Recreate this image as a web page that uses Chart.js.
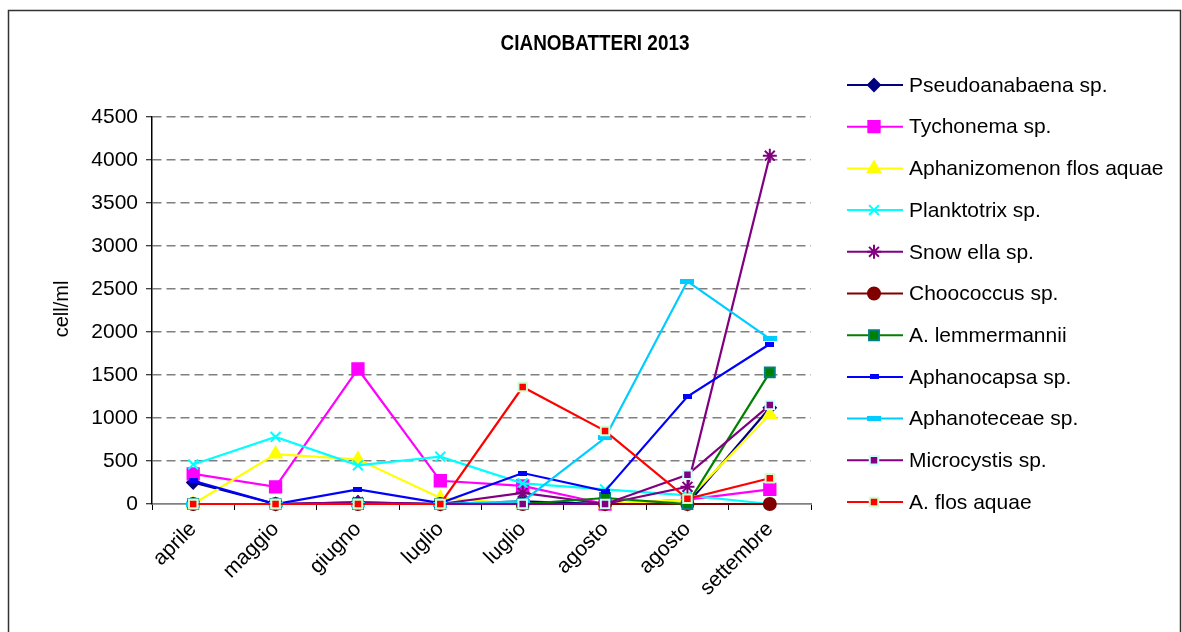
<!DOCTYPE html>
<html>
<head>
<meta charset="utf-8">
<script src="https://cdn.jsdelivr.net/npm/chart.js@4.4.0/dist/chart.umd.min.js"></script>
<style>
  body { margin: 0; background: #fff; }
  canvas { display: block; }
</style>
</head>
<body>
<canvas id="chart" width="1182" height="632"></canvas>
<script>
// values (cell/ml)
const months = ['aprile', 'maggio', 'giugno', 'luglio', 'luglio', 'agosto', 'agosto', 'settembre'];
const pseudoanabaena = [250, 0, 20, 0, 30, 0, 0, 1120];
const tychonema = [350, 200, 1570, 270, 210, 0, 50, 170];
const aphanizomenon = [0, 580, 520, 70, 0, 0, 50, 1040];
const planktotrix = [460, 780, 450, 550, 240, 170, 100, 0];
const snowella = [0, 0, 20, 0, 130, 0, 200, 4050];
const choococcus = [0, 0, 0, 0, 0, 0, 0, 0];
const lemmermannii = [0, 0, 0, 0, 0, 70, 0, 1530];
const aphanocapsa = [270, 0, 170, 10, 360, 150, 1250, 1860];
const aphanoteceae = [0, 0, 0, 0, 30, 770, 2590, 1920];
const microcystis = [0, 0, 0, 0, 0, 0, 340, 1150];
const flosAquae = [0, 0, 0, 0, 1360, 850, 60, 300];
const yTicks = [0, 500, 1000, 1500, 2000, 2500, 3000, 3500, 4000, 4500];

// small dash shaped markers
function dash(w, h, color) {
  const c = document.createElement('canvas');
  c.width = w; c.height = h;
  const g = c.getContext('2d');
  g.fillStyle = color;
  g.fillRect(0, 0, w, h);
  return c;
}

function series(label, data, color, style, radius, fill, border) {
  return {
    label: label,
    data: data,
    borderColor: color,
    backgroundColor: fill || color,
    borderWidth: 2.2,
    pointStyle: style,
    pointRadius: radius,
    pointHoverRadius: radius,
    pointBackgroundColor: fill || color,
    pointBorderColor: border || color,
    pointBorderWidth: 2,
    tension: 0,
    clip: false
  };
}

const datasets = [
  series('Pseudoanabaena sp.', pseudoanabaena, '#000080', 'rectRot', 6),
  series('Tychonema sp.', tychonema, '#ff00ff', 'rect', 8),
  series('Aphanizomenon flos aquae', aphanizomenon, '#ffff00', 'triangle', 7),
  series('Planktotrix sp.', planktotrix, '#00ffff', 'crossRot', 7),
  series('Snow ella sp.', snowella, '#800080', 'star', 7),
  series('Choococcus sp.', choococcus, '#800000', 'circle', 6),
  series('A. lemmermannii', lemmermannii, '#008000', 'rect', 7, '#008000', '#008080'),
  series('Aphanocapsa sp.', aphanocapsa, '#0000ff', dash(9, 5, '#0000ff'), 4),
  series('Aphanoteceae sp.', aphanoteceae, '#00ccff', dash(14, 5, '#00ccff'), 4),
  series('Microcystis sp.', microcystis, '#800080', 'rect', 6, '#800080', '#ccffff'),
  series('A. flos aquae', flosAquae, '#ff0000', 'rect', 6, '#ff0000', '#ccffcc')
];
// last series drawn on top, like the original
datasets.forEach((d, i) => { d.order = datasets.length - i; });

const frameAndText = {
  id: 'frameAndText',
  beforeDraw(chart) {
    const ctx = chart.ctx;
    ctx.save();
    ctx.fillStyle = '#fff';
    ctx.fillRect(0, 0, chart.width, chart.height);
    ctx.strokeStyle = '#333';
    ctx.lineWidth = 1.5;
    ctx.strokeRect(8.5, 10.5, 1172, 640);
    ctx.restore();
  },
  afterDraw(chart) {
    const ctx = chart.ctx;
    ctx.save();
    ctx.fillStyle = '#000';
    ctx.textAlign = 'center';
    ctx.textBaseline = 'middle';
    // narrow bold title
    ctx.save();
    ctx.translate(595, 44);
    ctx.scale(0.86, 1);
    ctx.font = "bold 22px 'Liberation Sans', Arial, sans-serif";
    ctx.fillText('CIANOBATTERI 2013', 0, 0);
    ctx.restore();

    // y axis title
    ctx.font = "20px 'Liberation Sans', Arial, sans-serif";
    ctx.translate(62, 309);
    ctx.rotate(-Math.PI / 2);
    ctx.fillText('cell/ml', 0, 0);
    ctx.restore();

    // legend: line through marker, like the original
    chart.data.datasets.forEach((d, i) => {
      const y = 85 + i * 41.7;
      ctx.save();
      ctx.strokeStyle = d.borderColor;
      ctx.lineWidth = 2;
      ctx.beginPath();
      ctx.moveTo(847, y);
      ctx.lineTo(903, y);
      ctx.stroke();
      ctx.fillStyle = d.pointBackgroundColor;
      ctx.strokeStyle = d.pointBorderColor;
      ctx.lineWidth = 2;
      Chart.helpers.drawPoint(ctx, {
        pointStyle: d.pointStyle,
        radius: d.pointRadius,
        rotation: 0,
        borderWidth: 2
      }, 874, y);
      ctx.fillStyle = '#000';
      ctx.font = "21px 'Liberation Sans', Arial, sans-serif";
      ctx.textAlign = 'left';
      ctx.textBaseline = 'middle';
      ctx.fillText(d.label, 909, y + 1);
      ctx.restore();
    });
  }
};

new Chart(document.getElementById('chart'), {
  type: 'line',
  data: { labels: months, datasets: datasets },
  options: {
    responsive: false,
    animation: false,
    devicePixelRatio: 1,
    layout: { padding: { top: 117, right: 371, left: 0, bottom: 0 } },
    plugins: {
      legend: { display: false },
      title: { display: false },
      tooltip: { enabled: false }
    },
    scales: {
      x: {
        offset: true,
        grid: {
          offset: true,
          drawOnChartArea: false,
          drawTicks: true,
          tickLength: 6,
          tickColor: '#000',
          tickWidth: 1
        },
        border: { color: '#808080', width: 1.5 },
        ticks: {
          color: '#000',
          font: { family: "'Liberation Sans', Arial, sans-serif", size: 21 },
          maxRotation: 45,
          minRotation: 45,
          padding: 7,
          autoSkip: false
        },
        afterFit(scale) { scale.height = 128; }
      },
      y: {
        min: 0,
        max: 4500,
        afterBuildTicks(scale) { scale.ticks = yTicks.map(v => ({ value: v })); },
        grid: {
          color: '#808080',
          lineWidth: 1.5,
          drawTicks: true,
          tickLength: 6,
          tickColor: '#000',
          tickWidth: 1,
          tickBorderDash: []
        },
        border: {
          color: '#000',
          width: 1.5,
          dash: (ctx) => (ctx.tick && ctx.tick.value !== 0 ? [9, 5] : [])
        },
        ticks: {
          color: '#000',
          font: { family: "'Liberation Sans', Arial, sans-serif", size: 21 },
          padding: 8,
          callback: (v) => String(v)
        },
        afterFit(scale) { scale.width = 152; }
      }
    }
  },
  plugins: [frameAndText]
});
</script>
</body>
</html>
